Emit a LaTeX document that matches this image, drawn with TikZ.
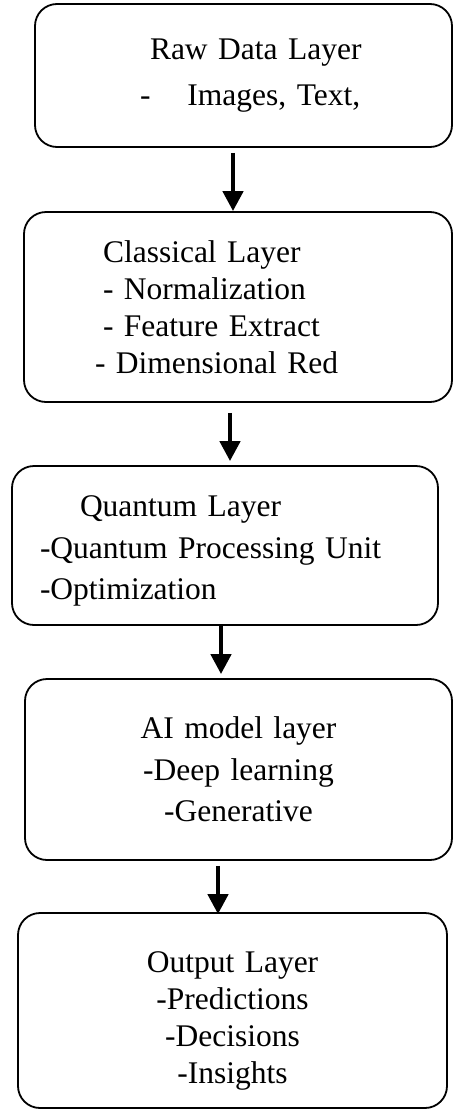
\documentclass[tikz,border=0pt]{standalone}
\usepackage{fontspec}
\setmainfont{Liberation Serif}
\usetikzlibrary{arrows.meta}
\setlength{\parindent}{0pt}
\tikzstyle{layerbox}=[draw=black,line width=1.8pt,rounded corners=22pt,inner ysep=0pt,font=\fontsize{31.5}{37}\selectfont]
\tikzstyle{flowarrow}=[line width=4.5pt,-{Triangle[width=20pt,length=20pt]}]

\begin{document}
\begin{tikzpicture}[x=1pt,y=-1pt]
  \useasboundingbox (0,0) rectangle (453,1111);

  \node[layerbox,inner xsep=105pt,text width=207pt,minimum height=143pt,align=left] (raw) at (243.5,75.5)
    {\mbox{\hspace*{10pt}Raw Data Layer}\\[9pt]\mbox{-\hspace*{37pt}Images, Text,}};
  \node[layerbox,inner xsep=71pt,text width=286pt,minimum height=190pt,align=left] (classical) at (238,307)
    {\hspace*{8pt}Classical Layer\\\hspace*{8pt}- Normalization\\\hspace*{8pt}- Feature Extract\\- Dimensional Red};
  \node[layerbox,inner xsep=28pt,text width=370pt,minimum height=159pt,align=left,
    font=\fontsize{31.5}{41.5}\selectfont] (quantum) at (225,545.5)
    {\rule{0pt}{32pt}\hspace*{40pt}Quantum Layer\\-Quantum Processing Unit\\-Optimization};
  \node[layerbox,inner xsep=20pt,text width=387pt,minimum height=181pt,align=center,
    font=\fontsize{31.5}{41.5}\selectfont] (aimodel) at (238.5,769.5)
    {AI model layer\\-Deep learning\\-Generative};
  \node[layerbox,inner xsep=20pt,text width=389pt,minimum height=195pt,align=center] (output) at (232.5,1010.5)
    {\rule{0pt}{42pt}Output Layer\\-Predictions\\-Decisions\\-Insights};

  % arrows between the layers
  \draw[flowarrow,shorten <=5pt] ([xshift=-10.5pt]raw.south) -- ([xshift=-5pt]classical.north);
  \draw[flowarrow,shorten <=10pt,shorten >=4pt] ([xshift=-8pt]classical.south) -- ([xshift=5pt]quantum.north);
  \draw[flowarrow,shorten >=4pt] ([xshift=-4pt]quantum.south) -- ([xshift=-17.5pt]aimodel.north);
  \draw[flowarrow,shorten <=5pt,shorten >=-2pt] ([xshift=-20.5pt]aimodel.south) -- ([xshift=-14.5pt]output.north);
\end{tikzpicture}
\end{document}
